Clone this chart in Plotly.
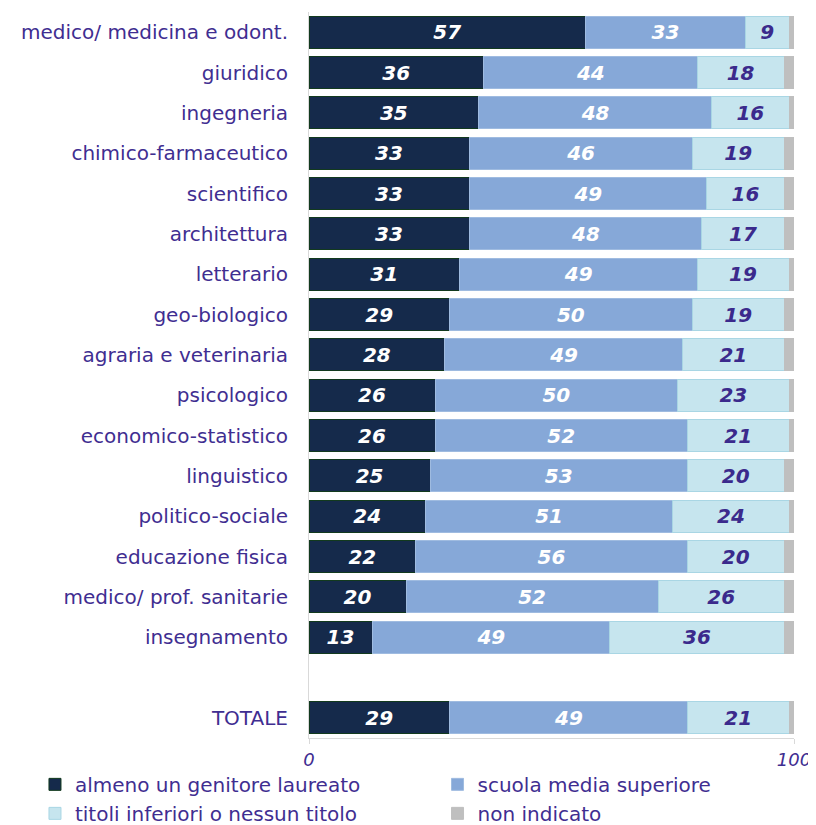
import plotly.graph_objects as go

# categories (top to bottom), a blank row separates TOTALE
categories = ["medico/ medicina e odont.", "giuridico", "ingegneria", "chimico-farmaceutico",
              "scientifico", "architettura", "letterario", "geo-biologico",
              "agraria e veterinaria", "psicologico", "economico-statistico", "linguistico",
              "politico-sociale", "educazione fisica", "medico/ prof. sanitarie",
              "insegnamento", "TOTALE"]
axis_order = categories[:-1] + [" "] + categories[-1:]

laureato = [57, 36, 35, 33, 33, 33, 31, 29, 28, 26, 26, 25, 24, 22, 20, 13, 29]
superiore = [33, 44, 48, 46, 49, 48, 49, 50, 49, 50, 52, 53, 51, 56, 52, 49, 49]
inferiori = [9, 18, 16, 19, 16, 17, 19, 19, 21, 23, 21, 20, 24, 20, 26, 36, 21]
non_indicato = [1, 2, 1, 2, 2, 2, 1, 2, 2, 1, 1, 2, 1, 2, 2, 2, 1]

purple = "#3f2e91"
numfont = dict(family="DejaVu Sans", size=20, weight="bold", style="italic")

series = [
    ("almeno un genitore laureato", laureato, "#152a4b", "#123a1e", "white", "legend"),
    ("scuola media superiore", superiore, "#86a8d8", "#9fbbe0", "white", "legend2"),
    ("titoli inferiori o nessun titolo", inferiori, "#c6e5ee", "#a9d6e4", "#3b2a8c", "legend"),
    ("non indicato", non_indicato, "#bfbfbf", "#bfbfbf", None, "legend2"),
]

fig = go.Figure()
for name, vals, col, edge, tcol, leg in series:
    fig.add_trace(go.Bar(
        y=categories, x=vals, name=name, orientation="h",
        marker=dict(color=col, line=dict(color=edge, width=1)),
        text=[str(v) for v in vals] if tcol else None,
        textposition="inside" if tcol else "none",
        insidetextanchor="middle", textangle=0,
        textfont=dict(numfont, color=tcol or "white"),
        legend=leg,
    ))

# page body adds an 8px offset, margins compensate for it
fig.update_layout(
    width=816, height=825,
    barmode="stack", bargap=0.2,
    plot_bgcolor="white", paper_bgcolor="white",
    margin=dict(l=301, r=30, t=4, b=95, autoexpand=False),
    font=dict(family="DejaVu Sans", size=20, color=purple),
    legend=dict(x=-0.565, y=-0.037, xanchor="left", yanchor="top",
                orientation="v", traceorder="normal", font=dict(size=20, color=purple),
                tracegroupgap=0, bgcolor="rgba(0,0,0,0)"),
    legend2=dict(x=0.265, y=-0.037, xanchor="left", yanchor="top",
                 orientation="v", traceorder="normal", font=dict(size=20, color=purple),
                 tracegroupgap=0, bgcolor="rgba(0,0,0,0)"),
)

fig.update_yaxes(type="category", categoryorder="array", categoryarray=axis_order,
                 range=[len(axis_order) - 0.5, -0.5], showline=True, linecolor="#d9d9d9",
                 linewidth=1, ticks="", ticklabelstandoff=16, showgrid=False,
                 tickfont=dict(size=20, color=purple))
fig.update_xaxes(range=[0, 100], tickvals=[0, 100], showgrid=False, zeroline=False,
                 showline=True, linecolor="#d9d9d9", ticks="outside", ticklen=5,
                 tickcolor="#d9d9d9",
                 tickfont=dict(size=18, color=purple, style="italic"))

fig.write_html("out.html")
